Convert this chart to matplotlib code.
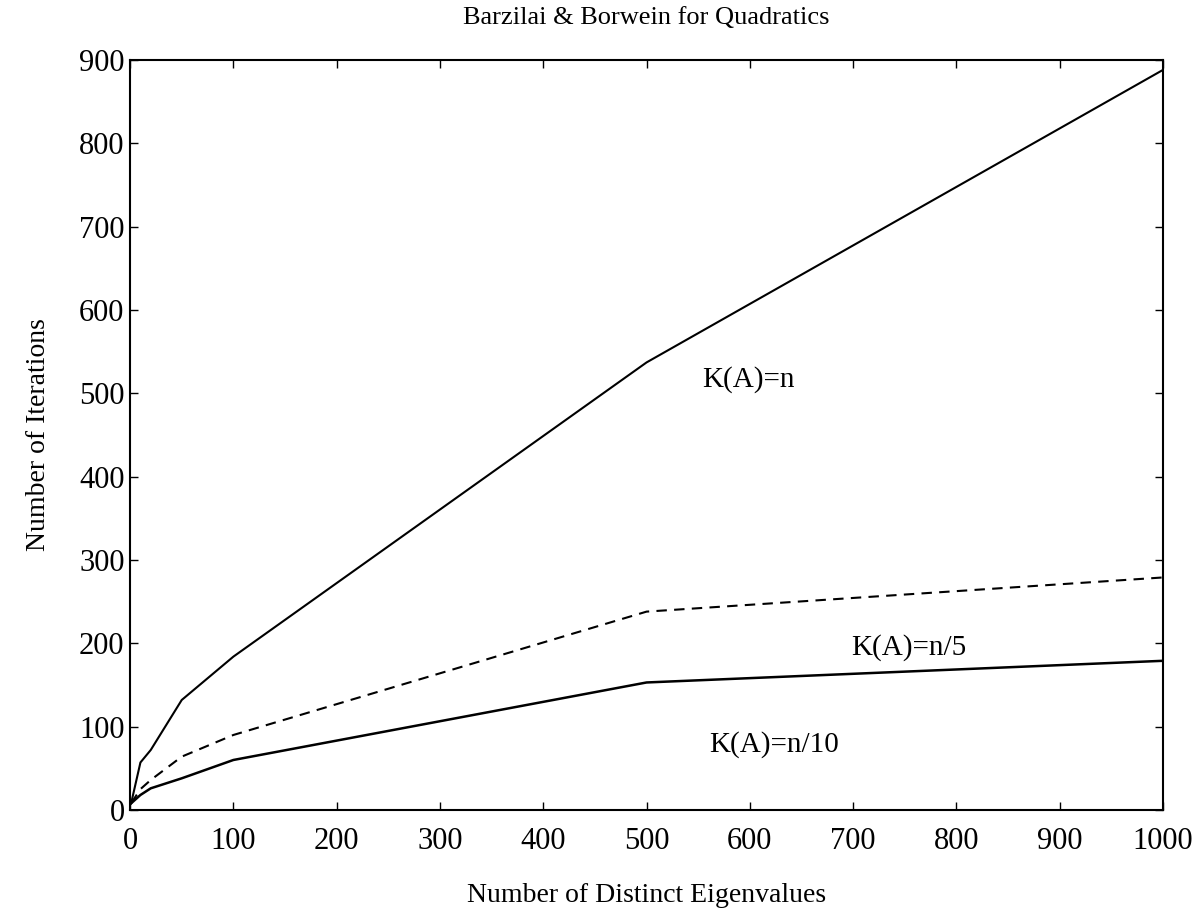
import matplotlib
matplotlib.use("Agg")
import matplotlib.pyplot as plt

# number of distinct eigenvalues
n_eig = [1, 10, 20, 50, 100, 500, 1000]
# iterations for each condition number
iters_n = [8, 57, 72, 132, 184, 537, 888]
iters_n5 = [8, 25, 36, 64, 90, 238, 279]
iters_n10 = [8, 18, 26, 38, 60, 153, 179]

xticks = list(range(0, 1001, 100))
yticks = list(range(0, 901, 100))

plt.rcParams['font.family'] = ['Liberation Serif', 'DejaVu Serif']

fig = plt.figure(figsize=(11.99, 9.17), dpi=100)
ax = fig.add_axes([0.1085, 0.1167, 0.8615, 0.818])

ax.plot(n_eig, iters_n, color='black', lw=1.5)
ax.plot(n_eig, iters_n5, color='black', lw=1.5, ls=(0, (5, 3.5)))
ax.plot(n_eig, iters_n10, color='black', lw=1.8)

ax.text(599, 516, "K(A)=n", fontsize=21, ha='center', va='center')
ax.text(754, 195, "K(A)=n/5", fontsize=21, ha='center', va='center')
ax.text(623, 78, "K(A)=n/10", fontsize=21, ha='center', va='center')

ax.set_xlim(0, 1000)
ax.set_ylim(0, 900)
ax.set_xticks(xticks)
ax.set_yticks(yticks)
ax.tick_params(direction='in', top=True, right=True, labelsize=22,
               length=6, width=1)
ax.tick_params(axis='x', pad=12)
ax.tick_params(axis='y', pad=4)
for s in ax.spines.values():
    s.set_linewidth(1.5)

ax.set_title("Barzilai & Borwein for Quadratics", fontsize=19, pad=26)
ax.set_xlabel("Number of Distinct Eigenvalues", fontsize=20, labelpad=20)
ax.set_ylabel("Number of Iterations", fontsize=20, labelpad=20)

fig.savefig("out.png", dpi=100)
